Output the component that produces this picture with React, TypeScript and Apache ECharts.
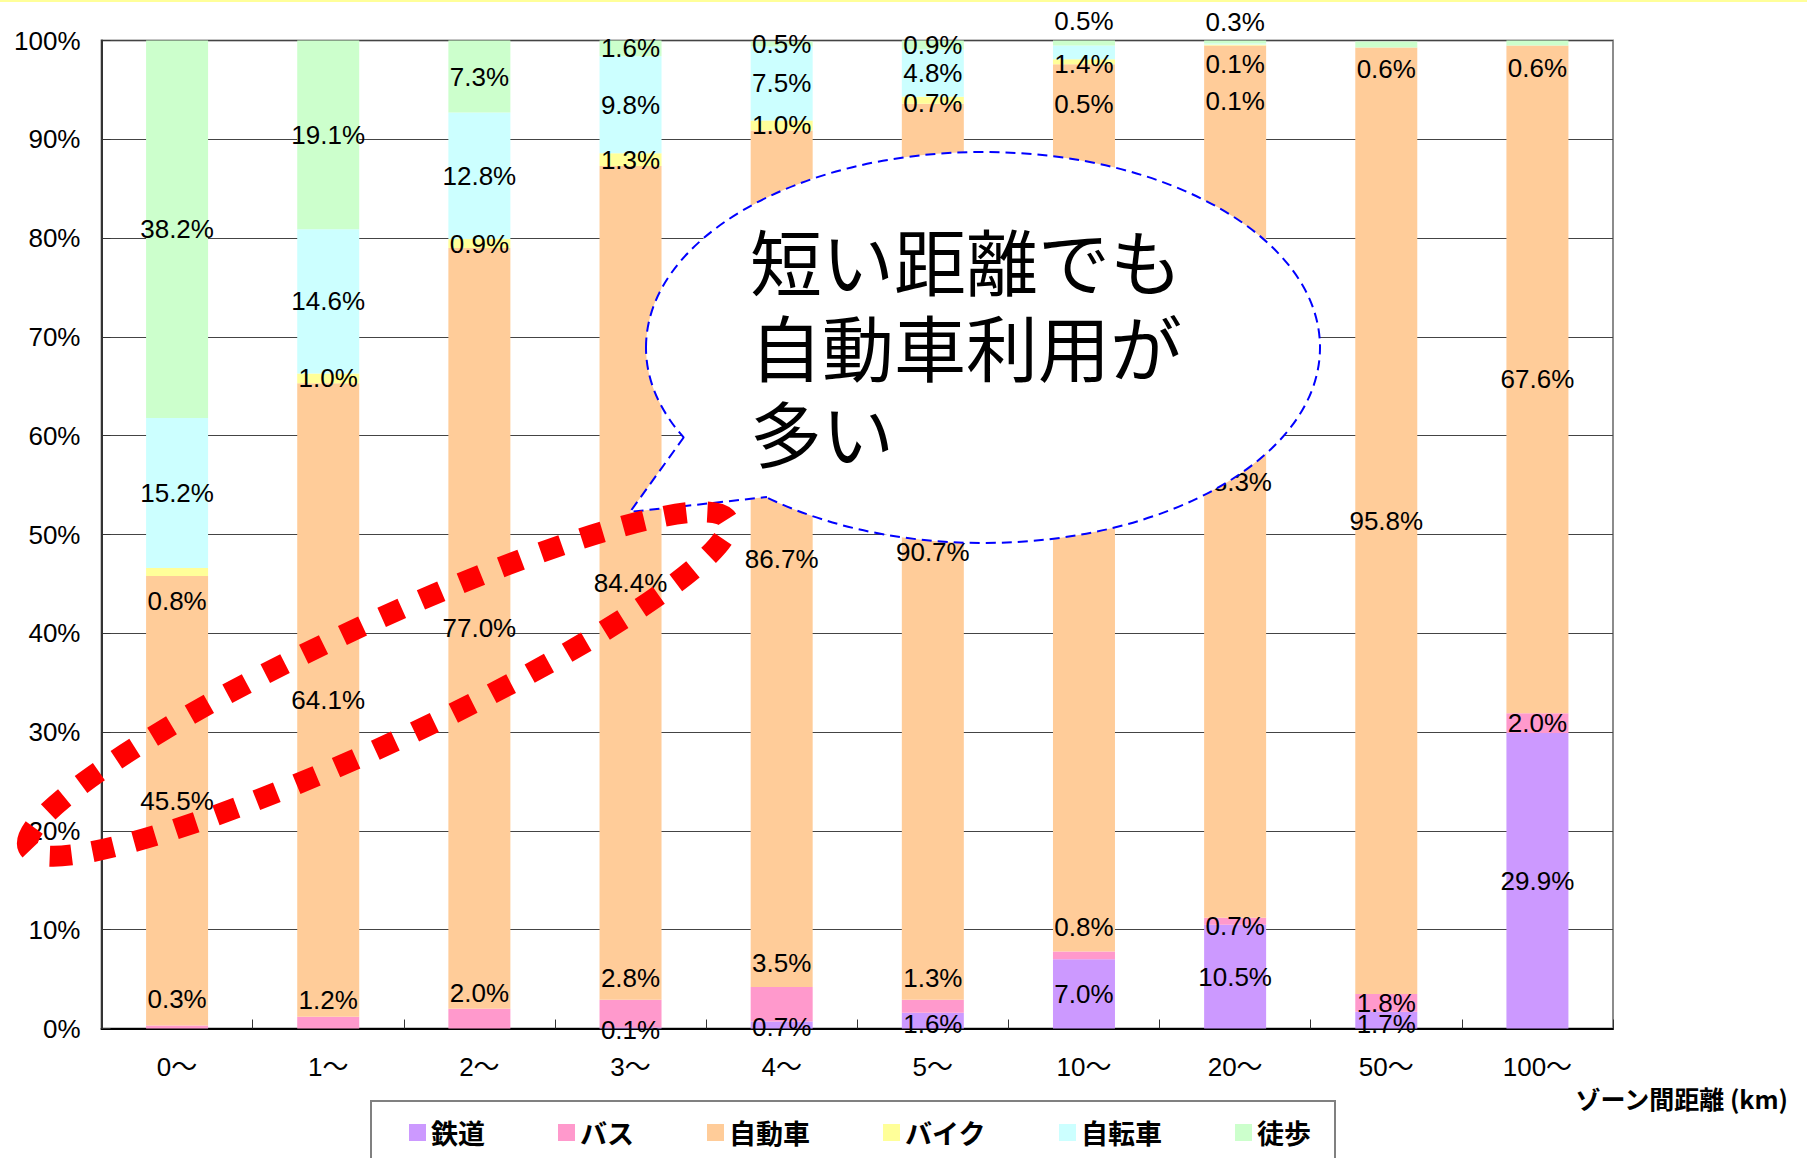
import React, { useEffect, useRef } from "react";
import * as echarts from "echarts";

// ---- data ----
const categories = ["0～", "1～", "2～", "3～", "4～", "5～", "10～", "20～", "50～", "100～"];
const seriesNames = ["鉄道", "バス", "自動車", "バイク", "自転車", "徒歩"];
const railway = [0, 0, 0, 0.1, 0.7, 1.6, 7.0, 10.5, 1.7, 29.9];
const bus = [0.3, 1.2, 2.0, 2.8, 3.5, 1.3, 0.8, 0.7, 1.8, 2.0];
const car = [45.5, 64.1, 77.0, 84.4, 86.7, 90.7, 89.8, 88.3, 95.8, 67.6];
const motorbike = [0.8, 1.0, 0.9, 1.3, 1.0, 0.7, 0.5, 0.1, 0, 0];
const bicycle = [15.2, 14.6, 12.8, 9.8, 7.5, 4.8, 1.4, 0.1, 0, 0];
const walk = [38.2, 19.1, 7.3, 1.6, 0.5, 0.9, 0.5, 0.3, 0.6, 0.6];
const seriesValues = [railway, bus, car, motorbike, bicycle, walk];
const yMin = 0;
const yMax = 100;
const yStep = 10;
const calloutLines = ["短い距離でも", "自動車利用が", "多い"];
const xAxisTitle = "ゾーン間距離 (km)";

// ---- styling ----
const colors = ["#CC99FF", "#FF99CC", "#FFCC99", "#FFFF99", "#CCFFFF", "#CCFFCC"];
// vertical label shifts (px) for labels moved by hand in the original
const labelShift: Record<string, number[]> = {
  鉄道: [0, 0, 0, 2, 2, 3, 0, 0, 4, 0],
  バス: [-28, -23, -26, -36, -41, -28, -28, 5, 0, 0],
  バイク: [29, 0, 0, 0, 0, 3, 42, 56, 0, 0],
  自転車: [0, 0, 0, 0, 0, 0, 12, 20, 0, 0],
  徒歩: [0, 0, 0, 0, 0, 0, -22, -20, 25, 25],
};

const LATIN = "'Liberation Sans', Arial, 'Noto Sans CJK JP', sans-serif";
const CJK = "'Noto Sans CJK JP', sans-serif";

export default function App() {
  const ref = useRef<HTMLDivElement>(null);

  useEffect(() => {
    if (!ref.current) return;
    const chart = echarts.init(ref.current, undefined, { renderer: "svg" });

    const series = seriesNames.map((name, si) => ({
      name,
      type: "bar",
      stack: "total",
      barWidth: 62,
      itemStyle: { color: colors[si] },
      label: {
        show: true,
        position: "inside",
        color: "#000",
        fontSize: 26,
        fontFamily: LATIN,
        formatter: (p: any) => (p.value ? Number(p.value).toFixed(1) + "%" : ""),
      },
      emphasis: { disabled: true },
      data: seriesValues[si].map((v, ci) => {
        const dy = labelShift[name] ? labelShift[name][ci] : 0;
        return dy ? { value: v, label: { offset: [0, dy] } } : { value: v };
      }),
    }));

    const ecx = 983, ecy = 347.5, erx = 337, ery = 195.5;
    const base1 = [684, 437];
    const tip = [630, 512];
    const base2 = [767, 497];

    chart.setOption({
      animation: false,
      backgroundColor: "#ffffff",
      color: colors,
      grid: {
        left: 101.5,
        right: 194,
        top: 40.5,
        bottom: 129.5,
        show: true,
        borderColor: "#8c8c8c",
        borderWidth: 2,
        backgroundColor: "transparent",
      },
      legend: {
        data: seriesNames,
        left: 371,
        top: 1101,
        orient: "horizontal",
        icon: "rect",
        itemWidth: 17,
        itemHeight: 17,
        itemGap: 73,
        padding: [18, 24, 40, 38],
        backgroundColor: "#ffffff",
        borderColor: "#808080",
        borderWidth: 2,
        textStyle: { fontSize: 27, fontWeight: "bold", fontFamily: CJK, color: "#000" },
        selectedMode: false,
      },
      xAxis: {
        type: "category",
        data: categories,
        axisLine: { show: true, lineStyle: { color: "#000", width: 2 } },
        axisTick: { show: true, inside: true, length: 9, lineStyle: { color: "#333" } },
        axisLabel: { fontSize: 26, color: "#000", margin: 25, fontFamily: LATIN },
        splitLine: { show: false },
      },
      yAxis: {
        type: "value",
        min: yMin,
        max: yMax,
        interval: yStep,
        axisLine: { show: true, lineStyle: { color: "#333", width: 2 } },
        axisTick: { show: true, inside: true, length: 9, lineStyle: { color: "#333" } },
        axisLabel: {
          fontSize: 26,
          color: "#000",
          margin: 21,
          fontFamily: LATIN,
          formatter: "{value}%",
        },
        splitLine: { show: true, lineStyle: { color: "#444", width: 1 } },
      },
      series,
      graphic: [
        {
          type: "rect",
          z: 120,
          shape: { x: 0, y: 0, width: 1807, height: 2 },
          style: { fill: "#FFFF99" },
        },
        {
          type: "text",
          z: 120,
          x: 1788,
          y: 1098,
          style: {
            text: xAxisTitle,
            fontSize: 25,
            fontWeight: "bold",
            fontFamily: CJK,
            fill: "#000",
            align: "right",
            verticalAlign: "middle",
          },
        },
        {
          type: "ellipse",
          z: 100,
          x: ecx,
          y: ecy,
          shape: { cx: 0, cy: 0, rx: erx, ry: ery },
          style: { fill: "#ffffff", stroke: "#0000FF", lineWidth: 2, lineDash: [10, 6] },
        },
        {
          type: "polygon",
          z: 101,
          shape: { points: [base1, tip, base2, [ecx, ecy]] },
          style: { fill: "#ffffff" },
        },
        {
          type: "polyline",
          z: 102,
          shape: { points: [base1, tip, base2] },
          style: { fill: null, stroke: "#0000FF", lineWidth: 2, lineDash: [10, 6] },
        },
        ...calloutLines.map((t, i) => ({
          type: "text",
          z: 103,
          x: 750,
          y: 258 + i * 86,
          style: {
            text: t,
            fontSize: 72,
            lineHeight: 74,
            fontFamily: CJK,
            fill: "#000",
            align: "left",
            verticalAlign: "middle",
          },
        })),
        {
          type: "ellipse",
          z: 110,
          x: 378,
          y: 684,
          rotation: (25.1 * Math.PI) / 180,
          shape: { cx: 0, cy: 0, rx: 386, ry: 59 },
          style: { fill: null, stroke: "#FF0000", lineWidth: 21, lineDash: [22, 21] },
        },
      ],
    });

    return () => chart.dispose();
  }, []);

  return (
    <div style={{ position: "fixed", left: 0, top: 0, width: 1807, height: 1158, background: "#fff" }}>
      <div ref={ref} style={{ width: 1807, height: 1158 }} />
    </div>
  );
}
